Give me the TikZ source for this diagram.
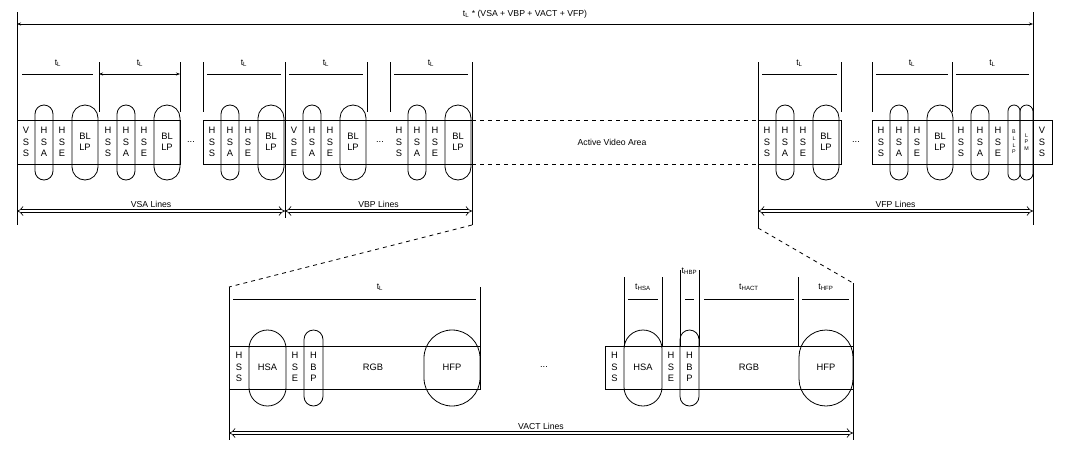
\documentclass[tikz,border=0pt]{standalone}
\usepackage{fontspec}
\setmainfont{Liberation Sans}
\usetikzlibrary{arrows.meta}
\begin{document}
\begin{tikzpicture}[x=0.75pt,y=-0.75pt,line width=0.6pt,
  txt/.style={font=\fontsize{7}{8.6}\selectfont,align=center,inner sep=0pt},
  tiny/.style={font=\fontsize{4}{5}\selectfont,align=center,inner sep=0pt},
  lab/.style={font=\fontsize{6.5}{7}\selectfont,inner sep=0pt},
  dbl/.style={double,double distance=2pt,line width=0.5pt,{Implies}-{Implies}},
  dim/.style={{Stealth[length=3pt]}-{Stealth[length=3pt]}}]
\useasboundingbox (0,0) rectangle (1091,461);
% oval macro: x1 x2 ytop ybot
\newcommand\myoval[4]{\pgfmathsetmacro\rr{((#2)-(#1))*0.375}\draw[rounded corners=\rr pt] (#1,#3) rectangle (#2,#4);}
\newcommand\myline[3]{%
  \node[txt] at (#1+9,142) {#2};
  \myoval{#1+18}{#1+36}{105}{180}
  \node[txt] at (#1+27,142) {H\\S\\A};
  \node[txt] at (#1+45,142) {H\\S\\E};
  \myoval{#1+55}{#1+81}{105}{180}
  \node[txt] at (#1+68,142) {BL\\LP};}
\newcommand\tl[2]{\draw (#1,62) -- (#1,112); \draw (#2,62) -- (#2,112);
  \draw (#1+4,74) -- (#2-4,74); \node[lab] at ({(#1+#2)/2},63) {t\textsubscript{L}};}
% title
\draw (17,12) -- (17,225);
\draw (1033,12) -- (1033,225);
\draw[dim] (17,24) -- (1033,24) node[lab,midway,above=4pt] (title) {t\textsubscript{L} * (VSA + VBP + VACT + VFP)};
% strips
\draw (17,120) rectangle (180,164);
\draw (203,120) rectangle (472,164);
\draw (758,120) rectangle (841,164);
\draw (872,120) rectangle (1052,164);
\myline{17}{V\\S\\S}{}
\myline{99}{H\\S\\S}{}
\myline{203}{H\\S\\S}{}
\myline{285}{V\\S\\E}{}
\myline{390}{H\\S\\S}{}
\myline{758}{H\\S\\S}{}
\myline{872}{H\\S\\S}{}
\node[txt] at (961,142) {H\\S\\S};
\myoval{971}{989}{105}{180}
\node[txt] at (980,142) {H\\S\\A};
\node[txt] at (998,142) {H\\S\\E};
\myoval{1008}{1020}{105}{180}
\node[tiny] at (1014,142) {B\\L\\L\\P};
\myoval{1020}{1033}{105}{180}
\node[tiny] at (1026.5,142) {L\\P\\M};
\node[txt] at (1042,142) {V\\S\\S};
\node[txt] (d1) at (191,142) {...};
\node[txt] (d2) at (380,142) {...};
\node[txt] (d3) at (856,142) {...};
% top brackets
\draw (99,62) -- (99,112); \draw (180,62) -- (180,112);
\draw (22,74) -- (93,74); \node[lab] at (58,63) {t\textsubscript{L}};
\draw[dim] (99,74) -- (180,74); \node[lab] at (140,63) {t\textsubscript{L}};
\tl{203}{285}
\tl{285}{367}
\tl{390}{472}
\tl{758}{841}
\tl{872}{952}
\tl{952}{1033}
\draw (285,62) -- (285,218);
\draw (472,62) -- (472,225);
\draw (758,62) -- (758,228);
% line arrows
\draw[dbl] (17,211) -- (285,211) node[lab,midway,above=2pt] {VSA Lines};
\draw[dbl] (285,211) -- (472,211) node[lab,midway,above=2pt] {VBP Lines};
\draw[dbl] (758,211) -- (1033,211) node[lab,midway,above=2pt] {VFP Lines};
% active area
\draw[dashed] (472,120) -- (758,120);
\draw[dashed] (472,164) -- (758,164);
\node[lab] (ava) at (612,142) {Active Video Area};
\draw[dashed] (472,225) -- (229,287);
\draw[dashed] (758,228) -- (853,283);
% bottom
\draw (229,287) -- (229,440);
\draw (853,283) -- (853,440);
\draw (229,346) rectangle (480,389);
\draw (605,346) rectangle (853,389);
\node[txt] at (239,367) {H\\S\\S};
\myoval{249}{286}{330}{406} \node[txt] at (267.5,367) {HSA};
\node[txt] at (295,367) {H\\S\\E};
\myoval{304}{323}{330}{406} \node[txt] at (313.5,367) {H\\B\\P};
\node[txt] at (373,367) {RGB};
\myoval{424}{480}{330}{406} \node[txt] at (452,367) {HFP};
\node[txt] at (544,367) {...};
\node[txt] at (614.5,367) {H\\S\\S};
\myoval{624}{662}{330}{406} \node[txt] at (643,367) {HSA};
\node[txt] at (671,367) {H\\S\\E};
\myoval{680}{699}{330}{406} \node[txt] at (689.5,367) {H\\B\\P};
\node[txt] at (749,367) {RGB};
\myoval{799}{853}{330}{406} \node[txt] at (826,367) {HFP};
\draw (480,287) -- (480,346);
\draw (233,299) -- (476,299); \node[lab] at (380,287) {t\textsubscript{L}};
\draw (624,277) -- (624,346); \draw (662,277) -- (662,346);
\draw (628,299) -- (658,299); \node[lab] at (643,287) {t\textsubscript{HSA}};
\draw (680,270) -- (680,346); \draw (699,270) -- (699,346);
\draw (685,299) -- (694,299); \node[lab] at (689.5,271) {t\textsubscript{HBP}};
\draw (798,277) -- (798,346);
\draw (704,299) -- (794,299); \node[lab] at (749,287) {t\textsubscript{HACT}};
\draw (802,299) -- (849,299); \node[lab] at (826,287) {t\textsubscript{HFP}};
\draw[dbl] (229,433) -- (853,433) node[lab,midway,above=2pt] {VACT Lines};
\end{tikzpicture}
\end{document}
